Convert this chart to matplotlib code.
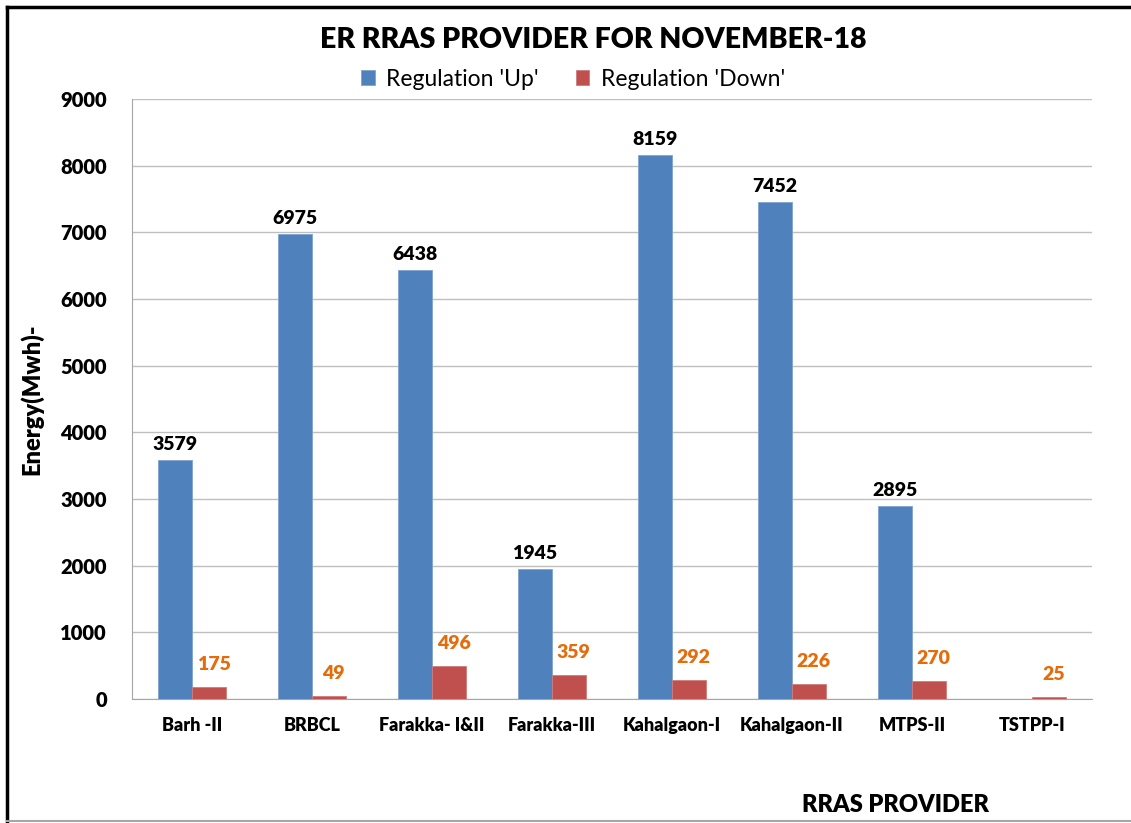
import matplotlib.pyplot as plt
import numpy as np
from matplotlib.lines import Line2D

providers = ["Barh -II", "BRBCL", "Farakka- I&II", "Farakka-III",
             "Kahalgaon-I", "Kahalgaon-II", "MTPS-II", "TSTPP-I"]
reg_up = [3579, 6975, 6438, 1945, 8159, 7452, 2895, 0]
reg_down = [175, 49, 496, 359, 292, 226, 270, 25]
yticks = [0, 1000, 2000, 3000, 4000, 5000, 6000, 7000, 8000, 9000]

plt.rcParams["font.family"] = ["Lato", "DejaVu Sans"]

W, H = 1131, 823
fig = plt.figure(figsize=(W / 100, H / 100), dpi=100)
# plot area in pixels: x 132..1092, y 99..699
ax = fig.add_axes([132 / W, 1 - 699 / H, 960 / W, 600 / H])

x = np.arange(len(providers))
bw = 0.283
ax.bar(x - bw / 2, reg_up, bw, color="#4F81BD", edgecolor="#7FA3D0", linewidth=0.6,
       label="Regulation 'Up'", zorder=3)
ax.bar(x + bw / 2, reg_down, bw, color="#C0504D", edgecolor="#D07C7A", linewidth=0.6,
       label="Regulation 'Down'", zorder=3)

for xi, v in zip(x, reg_up):
    if v > 0:
        ax.annotate(str(v), (xi - bw / 2, v), xytext=(0, 5), textcoords="offset points",
                    ha="center", va="bottom", fontsize=14, fontweight="heavy", color="black")
for xi, v in zip(x, reg_down):
    ax.annotate(str(v), (xi + bw / 2 + 0.04, v), xytext=(0, 10), textcoords="offset points",
                ha="center", va="bottom", fontsize=14, fontweight="heavy", color="#E46C0A")

ax.set_xlim(-0.5, len(providers) - 0.5)
ax.set_ylim(0, 9000)
ax.set_yticks(yticks)
ax.set_yticklabels([str(t) for t in yticks], fontsize=14.5, fontweight="heavy")
ax.set_xticks(x)
ax.set_xticklabels(providers, fontsize=13, fontweight="heavy")
ax.tick_params(axis="both", length=0)
ax.tick_params(axis="y", pad=18)
ax.tick_params(axis="x", pad=13)
ax.yaxis.grid(True, color="#BFBFBF", linewidth=1, zorder=0)
for s in ["top", "right"]:
    ax.spines[s].set_visible(False)
for s in ["left", "bottom"]:
    ax.spines[s].set_color("#A6A6A6")
ax.set_ylabel("Energy(Mwh)-", fontsize=17, fontweight="heavy", labelpad=12)

fig.text(593 / W, 1 - 40 / H, "ER RRAS PROVIDER FOR NOVEMBER-18", ha="center", va="center",
         fontsize=20.5, fontweight="heavy")
fig.text(895 / W, 1 - 805 / H, "RRAS PROVIDER", ha="center", va="center",
         fontsize=17, fontweight="heavy")

fig.legend(loc="center", bbox_to_anchor=(573 / W, 1 - 79 / H), ncol=2, frameon=False,
           fontsize=16.5, handlelength=0.6, handleheight=0.6, columnspacing=1.6,
           handletextpad=0.5)

# outer chart border
fig.add_artist(Line2D([7 / W, 7 / W], [1 - 7 / H, 1 - 821 / H], color="black", lw=2.5,
                      transform=fig.transFigure))
fig.add_artist(Line2D([7 / W, 1], [1 - 7 / H, 1 - 7 / H], color="black", lw=2.5,
                      transform=fig.transFigure))
fig.add_artist(Line2D([7 / W, 1], [1 - 821 / H, 1 - 821 / H], color="#A6A6A6", lw=1.5,
                      transform=fig.transFigure))

fig.savefig("out.png", dpi=100, facecolor="white")
